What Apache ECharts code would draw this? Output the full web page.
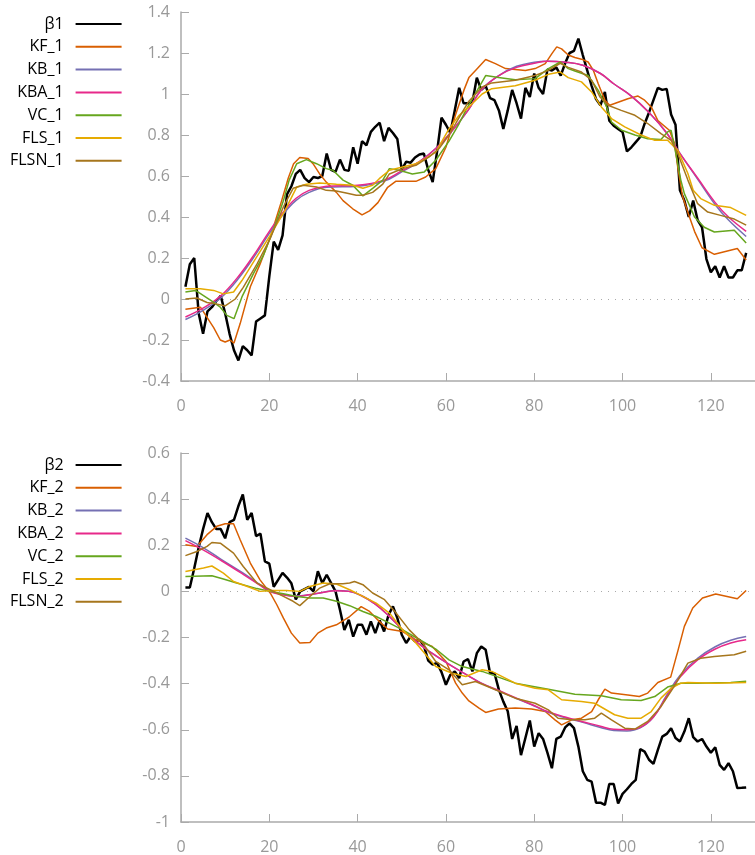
<!DOCTYPE html>
<html>
<head>
<meta charset="utf-8">
<script src="https://cdn.jsdelivr.net/npm/echarts@6/dist/echarts.min.js"></script>
<style>
html, body { margin: 0; padding: 0; background: #fff; }
#main { width: 755px; height: 855px; }
</style>
</head>
<body>
<div id="main"></div>
<script>
// top panel: raw beta1 (one value per step, t = 1..128)
var beta1 = [0.06, 0.17, 0.20, -0.07, -0.17, -0.06, -0.04, -0.01, 0.015, -0.07,
  -0.17, -0.25, -0.30, -0.23, -0.25, -0.275, -0.11, -0.095, -0.08, 0.11,
  0.28, 0.24, 0.31, 0.51, 0.55, 0.61, 0.63, 0.59, 0.57, 0.595,
  0.59, 0.60, 0.71, 0.63, 0.62, 0.68, 0.63, 0.625, 0.74, 0.66,
  0.77, 0.75, 0.815, 0.84, 0.86, 0.77, 0.835, 0.81, 0.78, 0.63,
  0.67, 0.665, 0.69, 0.705, 0.71, 0.63, 0.57, 0.72, 0.885, 0.85,
  0.81, 0.92, 1.03, 0.955, 0.955, 0.96, 1.08, 1.02, 1.04, 0.98,
  0.97, 0.92, 0.83, 0.92, 1.02, 0.955, 0.88, 1.03, 0.985, 1.10,
  1.03, 1.00, 1.12, 1.115, 1.13, 1.09, 1.15, 1.20, 1.21, 1.27,
  1.19, 1.115, 1.04, 0.975, 0.945, 1.01, 0.87, 0.845, 0.83, 0.815,
  0.72, 0.74, 0.765, 0.79, 0.855, 0.91, 0.97, 1.03, 1.02, 1.025,
  0.90, 0.85, 0.53, 0.48, 0.40, 0.48, 0.385, 0.35, 0.195, 0.13,
  0.16, 0.105, 0.16, 0.105, 0.105, 0.14, 0.14, 0.225]

// estimates as [t, value]
var kf1 = [[1, -0.05], [4.4, -0.04], [5.9, -0.09], [7.4, -0.14], [8.9, -0.2], [10, -0.21], [11.1, -0.2], [12, -0.215],
  [13.4, -0.12], [15.7, 0.06], [17.9, 0.17], [20.2, 0.3], [22.8, 0.48], [24.3, 0.59], [25.5, 0.66], [26.9, 0.69],
  [28.8, 0.685], [29.9, 0.66], [31.4, 0.61], [32.9, 0.57], [35.2, 0.52], [36.7, 0.48], [38.9, 0.44], [41, 0.41],
  [42.7, 0.43], [44.6, 0.47], [46.8, 0.545], [48.7, 0.575], [50.2, 0.574], [53.2, 0.574], [55.4, 0.595], [57.7, 0.636],
  [60, 0.74], [62.2, 0.9], [64.1, 1.02], [65.2, 1.08], [66.7, 1.115], [69, 1.168], [71.2, 1.148], [73.5, 1.124],
  [75.7, 1.12], [78, 1.115], [80.2, 1.124], [82.5, 1.148], [84, 1.197], [85.1, 1.23], [86.2, 1.22], [87.7, 1.19],
  [89.2, 1.178], [90.7, 1.17], [92.2, 1.156], [93.4, 1.115], [94.5, 1.05], [96, 0.97], [97.1, 0.945], [99, 0.96],
  [101.2, 0.977], [103.5, 0.99], [105, 0.97], [106.5, 0.937], [108, 0.87], [110.6, 0.823], [111.8, 0.758], [112.5, 0.644],
  [113.6, 0.5], [115, 0.41], [116.3, 0.33], [118, 0.25], [120.8, 0.218], [126, 0.246], [128, 0.19]]
var kb1 = [[1, -0.1], [5, -0.055], [9, 0.005], [13, 0.1], [17, 0.22], [20, 0.32], [23, 0.41], [26, 0.48], [29, 0.52],
  [33, 0.545], [40, 0.55], [46, 0.575], [50, 0.62], [54, 0.67], [58, 0.74], [61, 0.81], [65, 0.92], [68, 1.02], [72, 1.09],
  [76, 1.135], [80, 1.155], [83, 1.16], [87, 1.155], [91, 1.14], [95, 1.1], [98, 1.05], [102, 0.99], [106, 0.91], [110, 0.81],
  [113, 0.71], [117, 0.585], [121, 0.46], [124, 0.385], [128, 0.305]]
var kba1 = [[1, -0.088], [5, -0.045], [9, 0.015], [13, 0.11], [17, 0.23], [20, 0.33], [23, 0.42], [26, 0.49], [29, 0.53],
  [33, 0.55], [40, 0.555], [46, 0.58], [50, 0.625], [54, 0.67], [58, 0.74], [61, 0.81], [65, 0.92], [68, 1.02], [72, 1.09],
  [76, 1.13], [80, 1.15], [83, 1.16], [87, 1.155], [91, 1.14], [95, 1.1], [98, 1.05], [102, 0.99], [106, 0.91], [110, 0.81],
  [113, 0.71], [117, 0.59], [121, 0.47], [124, 0.4], [128, 0.33]]
var vc1 = [[1, 0.034], [3.3, 0.042], [5.1, 0.017], [7, -0.01], [8.9, -0.04], [10.4, -0.08], [12, -0.096], [13.8, 0.01],
  [16.4, 0.124], [18.6, 0.21], [20.9, 0.335], [23.2, 0.48], [24.5, 0.58], [26.2, 0.66], [28.4, 0.68], [30.7, 0.66],
  [32.9, 0.636], [34.4, 0.628], [36.7, 0.58], [38.9, 0.555], [41.2, 0.503], [43.4, 0.54], [45.7, 0.58], [47.2, 0.636],
  [49.4, 0.628], [52.4, 0.61], [55.1, 0.62], [57.7, 0.677], [60.7, 0.77], [63, 0.856], [64.5, 0.92], [69, 1.09],
  [71.9, 1.08], [75.7, 1.07], [80.2, 1.075], [83.2, 1.124], [85.9, 1.156], [87.7, 1.124], [89.2, 1.112], [92.2, 1.09],
  [94.5, 1.018], [96.4, 0.937], [97.5, 0.863], [99.8, 0.823], [102.8, 0.8], [105.7, 0.782], [108.7, 0.778], [110.2, 0.815],
  [111, 0.823], [111.8, 0.74], [113.2, 0.58], [114, 0.514], [116.3, 0.4], [118.5, 0.35], [120.8, 0.327], [125.3, 0.335],
  [128, 0.273]]
var fls1 = [[1, 0.05], [4.4, 0.05], [7.4, 0.042], [9.6, 0.025], [11.9, 0.034], [13.8, 0.09], [16.4, 0.18], [20.2, 0.31],
  [23.5, 0.43], [26.2, 0.546], [28.4, 0.56], [31.4, 0.566], [35.2, 0.56], [38.9, 0.555], [41.2, 0.54], [43.4, 0.555],
  [44.9, 0.587], [47.2, 0.628], [50.2, 0.644], [53.2, 0.66], [55.4, 0.685], [57.7, 0.717], [60.7, 0.83], [63, 0.896],
  [65.2, 0.937], [68.2, 1.0], [70.4, 1.026], [75.7, 1.04], [80.2, 1.067], [83.2, 1.096], [85.9, 1.107], [87.7, 1.08],
  [90.7, 1.059], [93, 1.01], [95.2, 0.937], [97.5, 0.88], [100.5, 0.84], [104.2, 0.8], [107.3, 0.774], [110.2, 0.774],
  [112.5, 0.725], [114.8, 0.612], [116, 0.53], [117.7, 0.49], [120.8, 0.457], [124.5, 0.446], [128, 0.408]]
var flsn1 = [[1, 0.0], [3.6, 0.005], [5.9, -0.017], [8.2, -0.025], [10, -0.034], [12.3, 0.0], [14.1, 0.057], [17.2, 0.17],
  [20.2, 0.295], [23.2, 0.45], [25.4, 0.54], [27.7, 0.555], [30.7, 0.546], [32.9, 0.53], [35.2, 0.527], [37.4, 0.517],
  [39.7, 0.506], [41.2, 0.506], [43.4, 0.52], [45.7, 0.56], [47.2, 0.61], [50.2, 0.636], [53.2, 0.652], [56.2, 0.693],
  [58.4, 0.733], [60.7, 0.8], [63.7, 0.912], [65.2, 0.965], [68.2, 1.034], [70.4, 1.054], [75.7, 1.067], [80.2, 1.09],
  [83.2, 1.115], [85.9, 1.15], [87.7, 1.13], [90.7, 1.107], [93, 1.067], [94.9, 0.985], [96.7, 0.945], [99.7, 0.92],
  [102.8, 0.896], [105.7, 0.856], [108.7, 0.807], [111, 0.774], [112.5, 0.71], [114.8, 0.58], [117, 0.465], [119.3, 0.424],
  [122.2, 0.408], [125.3, 0.39], [128, 0.36]]

// bottom panel: raw beta2
var beta2 = [0.017, 0.017, 0.10, 0.19, 0.27, 0.34, 0.30, 0.27, 0.27, 0.23,
  0.30, 0.31, 0.37, 0.42, 0.31, 0.34, 0.24, 0.25, 0.13, 0.12,
  0.02, 0.05, 0.08, 0.06, 0.035, -0.035, 0.0, 0.01, 0.02, 0.0,
  0.087, 0.036, 0.072, 0.036, 0.0, -0.08, -0.167, -0.123, -0.196, -0.145,
  -0.145, -0.188, -0.13, -0.181, -0.126, -0.174, -0.102, -0.065, -0.116, -0.188,
  -0.224, -0.196, -0.217, -0.21, -0.235, -0.30, -0.318, -0.31, -0.35, -0.405,
  -0.362, -0.347, -0.376, -0.304, -0.294, -0.347, -0.268, -0.239, -0.253, -0.355,
  -0.355, -0.427, -0.478, -0.52, -0.64, -0.583, -0.71, -0.636, -0.56, -0.673,
  -0.615, -0.64, -0.70, -0.767, -0.64, -0.63, -0.59, -0.572, -0.593, -0.673,
  -0.78, -0.817, -0.825, -0.916, -0.916, -0.926, -0.835, -0.835, -0.92, -0.878,
  -0.858, -0.835, -0.817, -0.684, -0.695, -0.73, -0.748, -0.687, -0.63, -0.618,
  -0.593, -0.636, -0.651, -0.608, -0.55, -0.632, -0.651, -0.64, -0.673, -0.70,
  -0.676, -0.752, -0.774, -0.745, -0.78, -0.853, -0.852, -0.85]

var kf2 = [[1, 0.202], [3.6, 0.195], [5.9, 0.246], [8.1, 0.282], [10, 0.293], [11.9, 0.293], [13.4, 0.224], [15.7, 0.123],
  [17.9, 0.05], [20.2, -0.007], [21.7, -0.058], [23.2, -0.116], [25, -0.181], [26.9, -0.224], [29.2, -0.222], [31, -0.181],
  [32.9, -0.159], [35.2, -0.145], [38.2, -0.109], [40.8, -0.066], [42.7, -0.087], [44.9, -0.13], [46.8, -0.163], [50.2, -0.174],
  [53.2, -0.21], [56.9, -0.239], [60, -0.304], [62.2, -0.398], [63.7, -0.441], [65.2, -0.475], [67.5, -0.506], [69, -0.525],
  [71.9, -0.51], [75.7, -0.506], [79.4, -0.51], [82.5, -0.521], [84.7, -0.557], [86.2, -0.579], [88.5, -0.557], [90.7, -0.55],
  [93, -0.521], [94.5, -0.47], [96, -0.424], [97.5, -0.441], [101.2, -0.449], [103.8, -0.456], [105.7, -0.441], [108, -0.395],
  [110.9, -0.372], [112.5, -0.26], [114, -0.152], [115.9, -0.072], [118.1, -0.029], [121.1, -0.011], [126, -0.032], [128, 0.004]]
var kb2 = [[1, 0.231], [5, 0.19], [9, 0.14], [14, 0.08], [18, 0.028], [20, 0.003], [23, -0.013], [26, -0.02], [29, -0.015],
  [32, -0.005], [35, 0.004], [38, 0.001], [41, -0.02], [44, -0.055], [47, -0.105], [50, -0.163], [53, -0.215], [57, -0.27],
  [61, -0.32], [65, -0.365], [68, -0.398], [72, -0.432], [76, -0.465], [80, -0.497], [83, -0.523], [87, -0.548], [91, -0.568],
  [95, -0.59], [98, -0.603], [101, -0.605], [104, -0.592], [107, -0.545], [110, -0.45], [113, -0.365], [117, -0.29],
  [121, -0.24], [124.5, -0.212], [128, -0.196]]
var kba2 = [[1, 0.22], [5, 0.18], [9, 0.135], [14, 0.075], [18, 0.025], [20, 0.0], [23, -0.015], [26, -0.022], [29, -0.015],
  [32, -0.005], [35, 0.003], [38, 0.0], [41, -0.02], [44, -0.055], [47, -0.105], [50, -0.163], [53, -0.215], [57, -0.27],
  [61, -0.32], [65, -0.365], [68, -0.398], [72, -0.43], [76, -0.463], [80, -0.495], [83, -0.521], [87, -0.545], [91, -0.565],
  [95, -0.585], [98, -0.598], [101, -0.6], [104, -0.59], [107, -0.545], [110, -0.455], [113, -0.372], [117, -0.297],
  [121, -0.25], [124.5, -0.224], [128, -0.21]]
var vc2 = [[1, 0.065], [7, 0.068], [9.6, 0.054], [12.6, 0.036], [17.2, 0.012], [20.2, 0.0], [23.2, -0.01], [26.2, -0.022],
  [29.2, -0.029], [32.2, -0.029], [35.2, -0.043], [38.2, -0.062], [41.2, -0.087], [44.2, -0.109], [47.2, -0.138],
  [50.2, -0.167], [53.2, -0.2], [57.7, -0.25], [60.7, -0.297], [63.7, -0.326], [68.2, -0.347], [75.7, -0.398], [83.2, -0.424],
  [89.2, -0.446], [95.2, -0.453], [99.7, -0.47], [104.2, -0.473], [107.3, -0.456], [110.2, -0.415], [113.2, -0.398],
  [117, -0.398], [124.5, -0.395], [128, -0.39]]
var fls2 = [[1, 0.086], [5.1, 0.101], [7, 0.11], [9.6, 0.079], [11.9, 0.043], [14.9, 0.022], [17.9, 0.0], [20.9, 0.004],
  [23.9, 0.004], [26.9, 0.0], [29.2, 0.021], [32.2, 0.036], [35.2, 0.032], [38.2, 0.007], [41.2, -0.022], [44.2, -0.051],
  [47.2, -0.094], [50.2, -0.167], [53.2, -0.224], [57.7, -0.326], [61.4, -0.355], [64.5, -0.369], [68.2, -0.34],
  [70.4, -0.347], [75.7, -0.398], [80.2, -0.42], [83.2, -0.427], [86.2, -0.47], [90.7, -0.478], [93.7, -0.485],
  [98.2, -0.535], [101.2, -0.55], [104.2, -0.55], [106.5, -0.521], [108.7, -0.463], [111, -0.42], [113.2, -0.398],
  [114.8, -0.395], [120.8, -0.398], [128, -0.395]]
var flsn2 = [[1, 0.155], [3.6, 0.173], [5.9, 0.195], [7, 0.212], [8.9, 0.209], [11.9, 0.166], [14.1, 0.108], [17.2, 0.036],
  [20.2, 0.007], [23.2, -0.022], [25.4, -0.043], [26.9, -0.062], [29.2, -0.022], [31.4, 0.014], [33.7, 0.033], [36.7, 0.033],
  [38.2, 0.036], [39.3, 0.043], [41.2, 0.029], [43.4, -0.007], [46.1, -0.036], [48.7, -0.094], [51.7, -0.167], [54.7, -0.224],
  [57.7, -0.304], [60.7, -0.34], [63.7, -0.405], [66.7, -0.391], [70.4, -0.42], [75.7, -0.463], [80.2, -0.485], [83.2, -0.514],
  [85.4, -0.55], [88.5, -0.557], [91.5, -0.557], [93.7, -0.55], [95.2, -0.528], [97.5, -0.557], [100.5, -0.593],
  [102.8, -0.597], [105.7, -0.564], [108.7, -0.5], [111.7, -0.412], [114.8, -0.311], [117.7, -0.29], [120.8, -0.282],
  [125.3, -0.275], [128, -0.26]]

var names1 = ['β1', 'KF_1', 'KB_1', 'KBA_1', 'VC_1', 'FLS_1', 'FLSN_1']
var names2 = ['β2', 'KF_2', 'KB_2', 'KBA_2', 'VC_2', 'FLS_2', 'FLSN_2']
var colors = ['#000000', '#d95f02', '#7570b3', '#e7298a', '#66a61e', '#e6ab02', '#a6761d']

var font = 'Open Sans'
var axisGray = '#aaaaaa'
var labelGray = '#999999'

function toPairs(arr) {
  return arr.map(function(v, i) {
    return [i + 1, v]
  })
}

function makeLine(name, data, idx, gi, smooth) {
  var s = {
    name: name,
    type: 'line',
    xAxisIndex: gi,
    yAxisIndex: gi,
    data: data,
    symbol: 'none',
    smooth: smooth || false,
    lineStyle: { color: colors[idx], width: idx === 0 ? 2.5 : 1.5 },
    itemStyle: { color: colors[idx] },
    z: 2 + idx
  }
  if (idx === 0) {
    // dotted zero line
    s.markLine = {
      silent: true,
      symbol: 'none',
      label: { show: false },
      lineStyle: { color: '#aaaaaa', type: [1, 6], width: 1 },
      data: [{ yAxis: 0 }]
    }
  }
  return s
}

function makeX(gi) {
  return {
    type: 'value',
    gridIndex: gi,
    min: 0,
    max: 130,
    interval: 20,
    axisLine: { onZero: false, lineStyle: { color: axisGray, width: 1.5 } },
    axisTick: { inside: true, length: 8, lineStyle: { color: axisGray } },
    axisLabel: { color: labelGray, fontSize: 16, fontFamily: font, margin: 17, showMaxLabel: false },
    splitLine: { show: false }
  }
}

function makeY(gi, min, max) {
  return {
    type: 'value',
    gridIndex: gi,
    min: min,
    max: max,
    interval: 0.2,
    axisLine: { show: true, onZero: false, lineStyle: { color: axisGray, width: 1.5 } },
    axisTick: { show: true, inside: true, length: 8, lineStyle: { color: axisGray } },
    axisLabel: { color: labelGray, fontSize: 16, fontFamily: font, margin: 11 },
    splitLine: { show: false }
  }
}

function makeLegend(names, top) {
  return {
    data: names,
    orient: 'vertical',
    align: 'right',
    left: 5,
    top: top,
    itemWidth: 46,
    itemHeight: 14,
    itemGap: 6.8,
    selectedMode: false,
    itemStyle: { opacity: 0 },
    textStyle: { color: '#000', fontSize: 16, fontFamily: font, lineHeight: 16, padding: [0, 7, 0, 0] }
  }
}

var top1 = [beta1, kf1, kb1, kba1, vc1, fls1, flsn1]
var bot2 = [beta2, kf2, kb2, kba2, vc2, fls2, flsn2]
var series = []
top1.forEach(function(d, i) {
  series.push(makeLine(names1[i], i === 0 ? toPairs(d) : d, i, 0, i === 2 || i === 3 ? 0.4 : false))
})
bot2.forEach(function(d, i) {
  series.push(makeLine(names2[i], i === 0 ? toPairs(d) : d, i, 1, i === 2 || i === 3 ? 0.4 : false))
})

var chart = echarts.init(document.getElementById('main'))
chart.setOption({
  animation: false,
  backgroundColor: '#ffffff',
  legend: [makeLegend(names1, 11), makeLegend(names2, 452)],
  grid: [
    { left: 181, right: -3, top: 12, height: 369 },
    { left: 181, right: -3, top: 453, height: 369 }
  ],
  xAxis: [makeX(0), makeX(1)],
  yAxis: [makeY(0, -0.4, 1.4), makeY(1, -1, 0.6)],
  series: series
})
</script>
</body>
</html>
